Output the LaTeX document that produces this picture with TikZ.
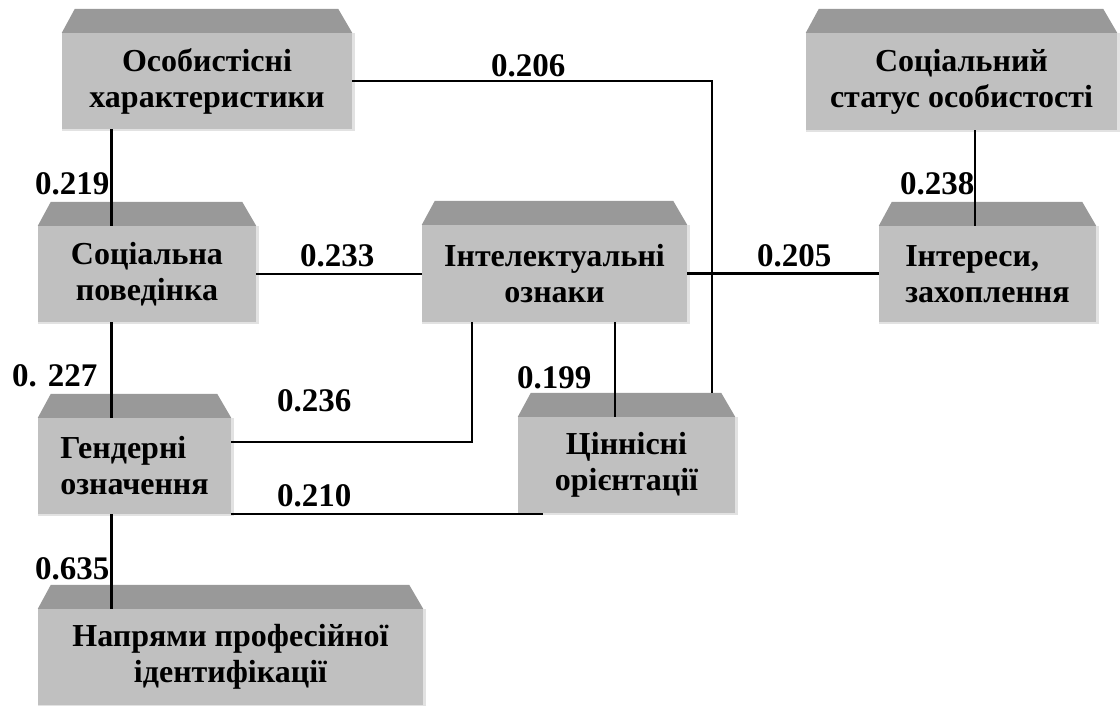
\documentclass[tikz,border=0pt]{standalone}
\usepackage{fontspec}
\setmainfont{Liberation Serif}
\definecolor{facegray}{HTML}{C0C0C0}
\definecolor{bevelgray}{HTML}{999999}
\definecolor{edgegray}{HTML}{E2E2E2}
\begin{document}
\begin{tikzpicture}[x=1pt, y=-1pt,
    box/.style={fill=facegray, inner sep=0pt, align=center,
        font=\bfseries\fontsize{32}{36}\selectfont},
    bevel/.style={fill=bevelgray},
    link/.style={line width=2.2pt},
    wt/.style={anchor=base west, inner sep=0pt,
        font=\bfseries\fontsize{33}{33}\selectfont}]
    \useasboundingbox (0,0) rectangle (1120,706);

    % The factor boxes (front faces)
    \node[box, minimum width=290pt, minimum height=96pt] (osob) at (207,81) {Особистісні\\характеристики};
    \node[box, minimum width=311pt, minimum height=97pt] (socst) at (961.5,81.5) {Соціальний\\статус особистості};
    \node[box, minimum width=218pt, minimum height=96pt] (socpov) at (147,274) {Соціальна\\поведінка};
    \node[box, minimum width=265pt, minimum height=97pt] (intel) at (554.5,273.5) {Інтелектуальні\\ознаки};
    \node[box, minimum width=217pt, minimum height=96pt, align=left] (inter) at (987.5,274) {Інтереси,\\захоплення};
    \node[box, minimum width=193pt, minimum height=96pt, align=left] (gend) at (134.5,466) {Гендерні\\означення};
    \node[box, minimum width=217pt, minimum height=96pt] (tsin) at (626.5,465) {Ціннісні\\орієнтації};
    \node[box, minimum width=385pt, minimum height=96pt] (napr) at (230.5,657) {Напрями професійної\\ідентифікації};

    % Bevelled tops and light edges
    \foreach \n in {osob,socst,socpov,intel,inter,gend,tsin,napr} {
        \fill[bevel] (\n.north west) -- ([shift={(13,-24)}]\n.north west)
            -- ([shift={(-14,-24)}]\n.north east) -- (\n.north east) -- cycle;
        \fill[edgegray] (\n.north east) rectangle ([shift={(3,0)}]\n.south east);
        \fill[edgegray] (\n.south west) rectangle ([shift={(3,2)}]\n.south east);
    }

    % Columns of the vertical links
    \coordinate (colA) at (111.5,0);
    \coordinate (colB) at (975,0);
    \coordinate (colC) at (712,0);
    \coordinate (colD) at (472,0);
    \coordinate (colE) at (615,0);

    % Links
    \draw[link] (osob.south -| colA) -- (socpov.north -| colA);
    \draw[link] (socpov.south -| colA) -- (gend.north -| colA);
    \draw[link] (gend.south -| colA) -- (napr.north -| colA);
    \draw[link] (socst.south -| colB) -- (inter.north -| colB);
    \draw[link] (socpov.east) -- (socpov.east -| intel.west);
    \draw[link] (intel.east) -- (intel.east -| inter.west);
    \draw[link] (osob.east) -| ([yshift=24pt]tsin.north -| colC);
    \draw[link] (intel.south -| colD) |- ([yshift=24pt]gend.east);
    \draw[link] (intel.south -| colE) -- (tsin.north -| colE);
    \draw[link] (gend.south east) -- ([xshift=25pt]tsin.south west |- gend.south east);

    % Weights
    \node[wt] (w206) at (491,77) {0.206};
    \node[wt] (w219) at (35,194) {0.219};
    \node[wt] (w238) at (900,194) {0.238};
    \node[wt] (w233) at (300,266) {0.233};
    \node[wt] (w205) at (757,266) {0.205};
    \node[wt] (w227) at (12,386) {0. 227};
    \node[wt] (w199) at (517,388) {0.199};
    \node[wt] (w236) at (277,411) {0.236};
    \node[wt] (w210) at (277,506) {0.210};
    \node[wt] (w635) at (35,579) {0.635};
\end{tikzpicture}
\end{document}
